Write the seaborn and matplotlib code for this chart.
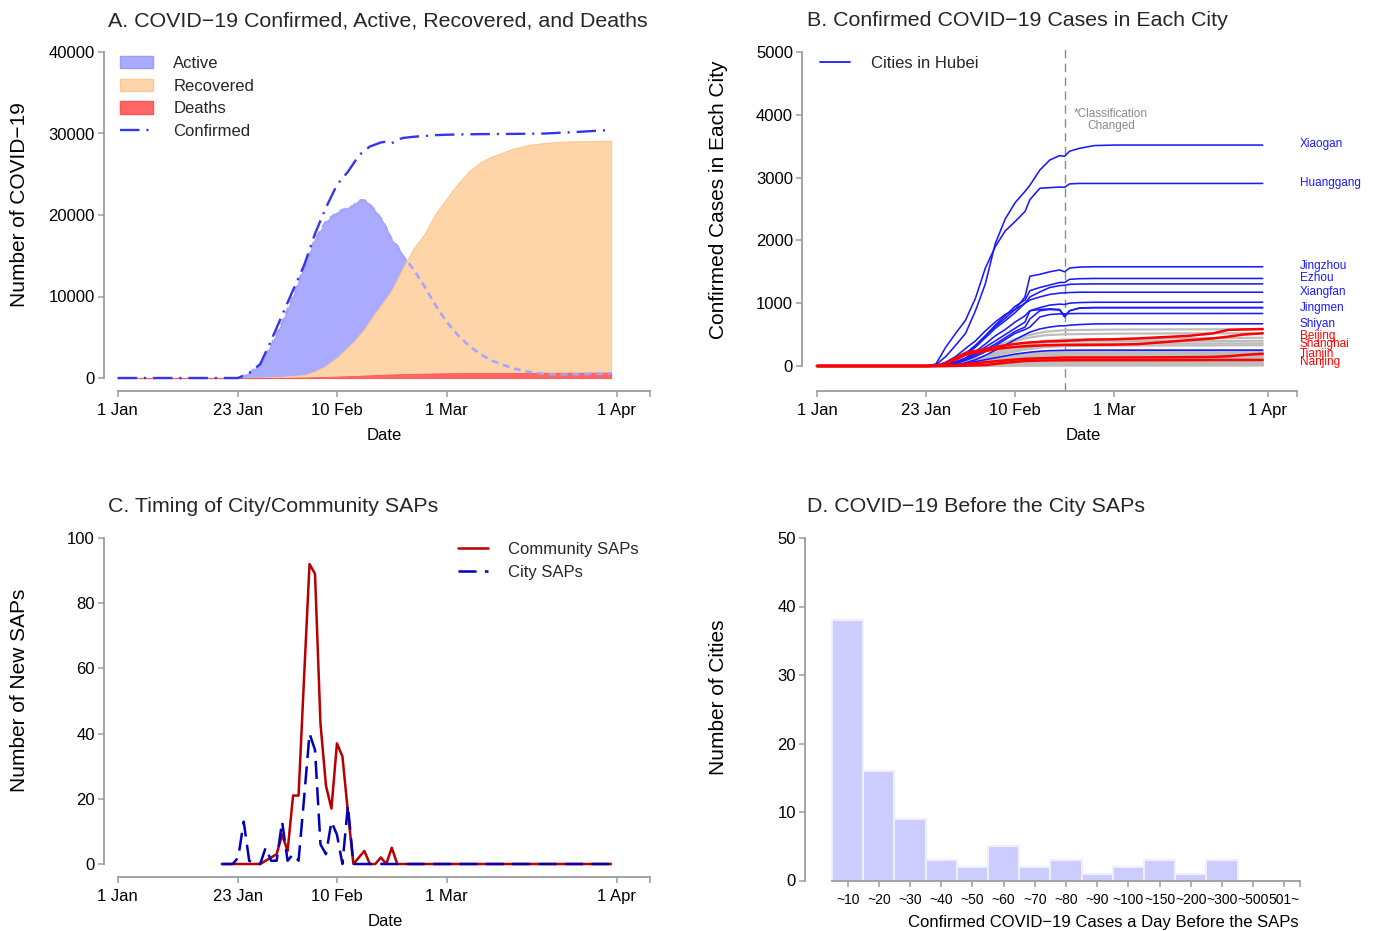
import matplotlib
matplotlib.use("Agg")
import matplotlib.pyplot as plt
import numpy as np
import pandas as pd
import seaborn as sns
from matplotlib.patches import Patch
from matplotlib.lines import Line2D

# ---------------------------------------------------------------- data
# A. daily totals (day 0 = 1 Jan 2020)
a_days = [0, 22, 24, 26, 28, 30, 32, 34, 36, 38, 40, 42, 43, 44, 45, 46, 48, 49, 50,
          51, 52, 54, 56, 58, 60, 62, 64, 66, 68, 70, 72, 75, 78, 81, 84, 87, 90]
a_confirmed = [0, 0, 600, 1700, 4600, 7700, 10800, 13800, 17700, 20900, 23700, 25300, 26300,
               27300, 27900, 28400, 28900, 29000, 28800, 29200, 29450, 29600, 29700, 29800,
               29850, 29880, 29900, 29920, 29930, 29940, 29950, 29970, 30000, 30100, 30200,
               30320, 30430]
a_active = [0, 0, 600, 1600, 4000, 6800, 10000, 13600, 17000, 19200, 20300, 20900, 21100,
            21800, 21800, 21300, 19600, 18400, 16900, 16200, 15000, 13300, 11200, 8900,
            6900, 5300, 4000, 3000, 2200, 1700, 1200, 750, 480, 420, 450, 520, 570]
a_recovered = [0, 0, 10, 20, 80, 150, 250, 350, 800, 1500, 2500, 3800, 4400, 5200, 6000,
               7000, 8900, 9800, 10800, 12100, 13500, 15900, 17700, 20200, 22000, 23800,
               25300, 26400, 27100, 27600, 28100, 28600, 28850, 28980, 29050, 29080, 29100]
a_deaths = [0, 0, 2, 5, 10, 20, 35, 60, 95, 130, 175, 220, 245, 270, 300, 330, 380, 405,
            430, 450, 470, 510, 535, 560, 580, 590, 600, 610, 615, 620, 625, 630, 640, 645,
            650, 655, 660]

# B. cumulative confirmed cases per city
hubei_days = [0, 22, 24, 26, 28, 30, 32, 34, 36, 38, 40, 42, 43, 45, 47, 49, 50, 51, 53, 56, 60, 70, 80, 90]
xiaogan = [0, 0, 20, 150, 330, 520, 880, 1310, 1950, 2340, 2600, 2780, 2880, 3120, 3280, 3350, 3340, 3420, 3466, 3510, 3518, 3518, 3518, 3518]
huanggang = [0, 0, 30, 300, 520, 730, 1080, 1560, 1900, 2150, 2300, 2460, 2650, 2830, 2840, 2850, 2845, 2900, 2907, 2907, 2907, 2907, 2907, 2907]
jingzhou = [0, 0, 5, 60, 150, 280, 400, 560, 700, 820, 900, 1100, 1430, 1460, 1500, 1530, 1500, 1560, 1575, 1580, 1580, 1580, 1580, 1580]
ezhou = [0, 0, 5, 40, 100, 200, 320, 480, 650, 800, 950, 1050, 1200, 1250, 1290, 1330, 1330, 1380, 1390, 1394, 1394, 1394, 1394, 1394]
suizhou = [0, 0, 5, 30, 90, 180, 300, 450, 600, 720, 850, 1000, 1100, 1180, 1250, 1280, 1285, 1300, 1305, 1307, 1307, 1307, 1307, 1307]
xiangfan = [0, 0, 5, 30, 100, 200, 330, 480, 630, 760, 900, 1000, 1050, 1100, 1140, 1160, 1165, 1170, 1175, 1175, 1175, 1175, 1175, 1175]
huangshi = [0, 0, 3, 20, 60, 130, 230, 350, 480, 580, 700, 800, 880, 930, 970, 985, 980, 1000, 1010, 1015, 1015, 1015, 1015, 1015]
yichang = [0, 0, 2, 20, 60, 120, 200, 300, 400, 500, 600, 700, 880, 900, 910, 900, 800, 880, 925, 931, 931, 931, 931, 931]
jingmen = [0, 0, 2, 15, 50, 100, 180, 260, 350, 450, 550, 620, 750, 880, 900, 890, 780, 880, 920, 928, 928, 928, 928, 928]
xianning = [0, 0, 2, 10, 40, 90, 150, 230, 320, 420, 520, 580, 620, 780, 820, 830, 830, 834, 836, 836, 836, 836, 836, 836]
shiyan = [0, 0, 1, 5, 20, 50, 100, 170, 250, 330, 420, 500, 540, 590, 620, 640, 640, 650, 660, 670, 672, 672, 672, 672]
enshi = [0, 0, 1, 5, 15, 40, 70, 100, 130, 160, 190, 210, 220, 235, 245, 248, 250, 251, 252, 252, 252, 252, 252, 252]
hubei_names = ["Xiaogan", "Huanggang", "Jingzhou", "Ezhou", "Suizhou", "Xiangfan", "Huangshi",
               "Yichang", "Jingmen", "Xianning", "Shiyan", "Enshi"]
hubei_series = [xiaogan, huanggang, jingzhou, ezhou, suizhou, xiangfan, huangshi,
                yichang, jingmen, xianning, shiyan, enshi]

major_days = [0, 22, 24, 26, 28, 30, 34, 38, 42, 46, 50, 55, 60, 65, 70, 75, 80, 83, 86, 90]
beijing = [0, 0, 5, 40, 130, 210, 270, 330, 370, 390, 400, 420, 425, 440, 460, 480, 520, 575, 582, 589]
shanghai = [0, 0, 3, 30, 100, 180, 240, 290, 315, 330, 335, 338, 340, 350, 380, 410, 440, 467, 500, 520]
tianjin = [0, 0, 0, 5, 15, 30, 60, 90, 115, 125, 135, 136, 136, 137, 138, 140, 145, 155, 175, 195]
nanjing = [0, 0, 0, 0, 2, 5, 15, 50, 80, 88, 92, 93, 93, 93, 94, 94, 95, 95, 96, 96]
major_names = ["Beijing", "Shanghai", "Tianjin", "Nanjing"]
major_series = [beijing, shanghai, tianjin, nanjing]

other_days = [0, 22, 26, 30, 34, 38, 42, 46, 50, 60, 75, 90]
other_cities = [
    [0, 0, 15, 90, 230, 370, 480, 545, 570, 580, 584, 584],
    [0, 0, 20, 100, 230, 350, 440, 490, 505, 515, 520, 520],
    [0, 0, 10, 60, 150, 260, 350, 400, 420, 430, 440, 450],
    [0, 0, 12, 65, 160, 260, 330, 370, 390, 396, 398, 400],
    [0, 0, 8, 50, 130, 220, 290, 330, 350, 356, 358, 360],
    [0, 0, 10, 45, 120, 200, 260, 300, 318, 325, 328, 330],
    [0, 0, 6, 35, 90, 150, 200, 230, 242, 247, 249, 250],
    [0, 0, 8, 40, 95, 150, 190, 215, 225, 228, 230, 230],
    [0, 0, 5, 30, 80, 130, 170, 195, 205, 208, 210, 210],
    [0, 0, 6, 28, 70, 120, 160, 182, 190, 193, 195, 195],
    [0, 0, 4, 25, 65, 110, 145, 168, 176, 179, 180, 180],
    [0, 0, 5, 22, 60, 100, 135, 155, 161, 164, 165, 165],
    [0, 0, 3, 20, 55, 92, 122, 140, 147, 149, 150, 150],
    [0, 0, 4, 18, 48, 82, 110, 126, 132, 134, 135, 135],
    [0, 0, 2, 15, 42, 72, 98, 112, 117, 119, 120, 120],
    [0, 0, 3, 14, 38, 64, 86, 98, 103, 104, 105, 105],
    [0, 0, 2, 12, 32, 55, 73, 84, 88, 89, 90, 90],
    [0, 0, 2, 10, 26, 45, 61, 70, 73, 74, 75, 75],
    [0, 0, 1, 8, 21, 36, 49, 56, 59, 60, 60, 60],
    [0, 0, 1, 6, 17, 29, 39, 45, 47, 48, 48, 48],
    [0, 0, 1, 5, 13, 22, 29, 34, 35, 36, 36, 36],
    [0, 0, 0, 3, 9, 15, 20, 23, 24, 25, 25, 25],
    [0, 0, 0, 2, 5, 9, 12, 14, 15, 15, 15, 15],
    [0, 0, 0, 1, 3, 5, 6, 7, 8, 8, 8, 8],
]
labelled_hubei = ["Xiaogan", "Huanggang", "Jingzhou", "Ezhou", "Xiangfan", "Jingmen", "Shiyan"]
classification_day = 50

# C. new SAPs per day, days 19..90
c_days = list(range(19, 91))
c_community = [0, 0, 0, 0, 0, 0, 0, 0, 1, 2, 3, 9, 4, 21, 21, 57, 92, 89, 43, 24, 17, 37, 33,
               16, 0, 2, 4, 0, 0, 2, 0, 5, 0] + [0] * 39
c_city = [0, 0, 0, 2, 13, 1, 0, 0, 5, 1, 1, 13, 1, 3, 1, 20, 40, 35, 6, 3, 13, 9, 0, 18,
          0] + [0] * 47

# D. cities by confirmed cases the day before the SAPs
d_bins = ["~10", "~20", "~30", "~40", "~50", "~60", "~70", "~80", "~90", "~100",
          "~150", "~200", "~300", "~500", "501~"]
d_counts = [38, 16, 9, 3, 2, 5, 2, 3, 1, 2, 3, 1, 3, 0, 0]

date_ticks = [0, 22, 40, 60, 91, 97]
date_labels = ["1 Jan", "23 Jan", "10 Feb", "1 Mar", "1 Apr", ""]

# ---------------------------------------------------------------- style
sns.set_theme(style="ticks")
plt.rcParams["font.family"] = ["Liberation Sans", "DejaVu Sans"]
plt.rcParams["lines.scale_dashes"] = False

W, H = 1379, 931
fig = plt.figure(figsize=(W / 100, H / 100), dpi=100)
AXIS_GREY = "#9c9c9c"


def fx(px):
    return px / W


def fy(py):
    return 1 - py / H


def make_axes(box):
    left, top, right, bottom = box
    return fig.add_axes([fx(left), fy(bottom), (right - left) / W, (bottom - top) / H])


def set_limits(ax, box, xref, yref):
    left, top, right, bottom = box
    (px0, v0), (px1, v1) = xref
    sx = (v1 - v0) / (px1 - px0)
    ax.set_xlim(v0 + (left - px0) * sx, v0 + (right - px0) * sx)
    (py0, w0), (py1, w1) = yref
    sy = (w1 - w0) / (py1 - py0)
    ax.set_ylim(w0 + (bottom - py0) * sy, w0 + (top - py0) * sy)


def style_axes(ax, xbounds, ybounds, xticks, xlabels, yticks, xsize=12):
    for s in ["top", "right"]:
        ax.spines[s].set_visible(False)
    for s in ["left", "bottom"]:
        ax.spines[s].set_color(AXIS_GREY)
        ax.spines[s].set_linewidth(1.3)
    ax.spines["bottom"].set_bounds(*xbounds)
    ax.spines["left"].set_bounds(*ybounds)
    ax.set_xticks(xticks)
    ax.set_xticklabels(xlabels)
    ax.set_yticks(yticks)
    ax.set_yticklabels([str(int(t)) for t in yticks])
    ax.tick_params(axis="both", colors=AXIS_GREY, length=4.5, width=1.1, labelcolor="black")
    ax.tick_params(axis="x", pad=4, labelsize=xsize)
    ax.tick_params(axis="y", pad=2, labelsize=12)
    ax.set_xlabel("")
    ax.set_ylabel("")
    ax.grid(False)
    ax.set_facecolor("none")


def label_text(x, y, s, size=12, rot=0, ha="center"):
    fig.text(fx(x), fy(y), s, fontsize=size, rotation=rot, ha=ha, va="center", color="black")


# ---------------------------------------------------------------- A
boxA = (104, 45, 662, 391)
axA = make_axes(boxA)
axA.fill_between(a_days, 0, a_active, color="#aaaaff", edgecolor="#9d9df7", lw=0.8, zorder=1)
axA.fill_between(a_days, 0, a_recovered, color="#fed4a9", edgecolor="#fcc894", lw=0.8, zorder=2)
axA.fill_between(a_days, 0, a_deaths, color="#ff6666", edgecolor="#ff5555", lw=0.6, zorder=3)
sns.lineplot(x=a_days[1:], y=a_active[1:], ax=axA, color="#a4a4ff", lw=1.8, zorder=4)
axA.lines[-1].set_dashes((5, 3.5))
sns.lineplot(x=a_days, y=a_confirmed, ax=axA, color="#3535ee", lw=1.7, zorder=5)
axA.lines[-1].set_dashes((14, 5, 1.5, 5))
set_limits(axA, boxA, ((117.6, 0), (616.6, 91)), ((378, 0), (52, 40000)))
style_axes(axA, (0, 97), (0, 40000), date_ticks, date_labels, [0, 10000, 20000, 30000, 40000])
handlesA = [Patch(facecolor="#aaaaff", edgecolor="#9d9df7"),
            Patch(facecolor="#fed4a9", edgecolor="#fcc894"),
            Patch(facecolor="#ff6666", edgecolor="#ff5555"),
            Line2D([], [], color="#3535ee", lw=1.7, dashes=(14, 5, 1.5, 5))]
axA.legend(handlesA, ["Active", "Recovered", "Deaths", "Confirmed"], loc="upper left",
           bbox_to_anchor=(fx(120), fy(56)), bbox_transform=fig.transFigure, frameon=False,
           fontsize=12, handlelength=1.95, handleheight=0.75, handletextpad=1.25,
           labelspacing=0.46, borderpad=0, borderaxespad=0)

# ---------------------------------------------------------------- B
boxB = (802, 45, 1312, 391)
axB = make_axes(boxB)
grey_df = pd.concat([pd.DataFrame({"day": other_days, "cases": vals, "city": f"other{i}"})
                     for i, vals in enumerate(other_cities)])
hubei_df = pd.concat([pd.DataFrame({"day": hubei_days, "cases": vals, "city": name})
                      for name, vals in zip(hubei_names, hubei_series)])
major_df = pd.concat([pd.DataFrame({"day": major_days, "cases": vals, "city": name})
                      for name, vals in zip(major_names, major_series)])
sns.lineplot(data=grey_df, x="day", y="cases", units="city", estimator=None, ax=axB,
             color="#bdbdbd", lw=1.6, legend=False, zorder=1)
sns.lineplot(data=hubei_df, x="day", y="cases", units="city", estimator=None, ax=axB,
             color="#1a1aff", lw=1.15, legend=False, zorder=2)
sns.lineplot(data=major_df, x="day", y="cases", units="city", estimator=None, ax=axB,
             color="#ff0000", lw=1.8, legend=False, zorder=3)
axB.axvline(classification_day, color="#8a8a8a", lw=1.0, dashes=(6, 4), zorder=0)
axB.text(59.4, 3917, "*Classification\nChanged", color="#8a8a8a", fontsize=8.5,
         ha="center", va="center", multialignment="center", linespacing=1.0)
set_limits(axB, boxB, ((817, 0), (1262.7, 90)), ((366, 0), (52, 5000)))
style_axes(axB, (0, 97), (0, 5000), date_ticks, date_labels, [0, 1000, 2000, 3000, 4000, 5000])

name_px = {"Xiaogan": 144.5, "Huanggang": 183, "Jingzhou": 266, "Ezhou": 278, "Xiangfan": 292,
           "Jingmen": 307.5, "Shiyan": 323.5, "Beijing": 336.5, "Shanghai": 343.5,
           "Tianjin": 353.5, "Nanjing": 362}
for name in labelled_hubei + major_names:
    yval = (366 - name_px[name]) / 314 * 5000
    col = "#1a1aff" if name in labelled_hubei else "#ff0000"
    axB.text(97.5, yval, name, color=col, fontsize=8.5, ha="left", va="center", clip_on=False)
axB.legend([Line2D([], [], color="#1a1aff", lw=1.3)], ["Cities in Hubei"], loc="upper left",
           bbox_to_anchor=(fx(820), fy(56)), bbox_transform=fig.transFigure, frameon=False,
           fontsize=12, handlelength=1.8, handletextpad=1.25, borderpad=0, borderaxespad=0)

# ---------------------------------------------------------------- C
boxC = (104, 530, 662, 877)
axC = make_axes(boxC)
sns.lineplot(x=c_days, y=c_community, ax=axC, color="#b80000", lw=1.8, zorder=2)
sns.lineplot(x=c_days, y=c_city, ax=axC, color="#0000b8", lw=1.8, zorder=3)
axC.lines[-1].set_dashes((13, 6))
set_limits(axC, boxC, ((117.6, 0), (616.6, 91)), ((864, 0), (538, 100)))
style_axes(axC, (0, 97), (0, 100), date_ticks, date_labels, [0, 20, 40, 60, 80, 100])
axC.legend([Line2D([], [], color="#b80000", lw=1.8),
            Line2D([], [], color="#0000b8", lw=1.8, dashes=(13, 6))],
           ["Community SAPs", "City SAPs"], loc="upper left",
           bbox_to_anchor=(fx(458), fy(542)), bbox_transform=fig.transFigure, frameon=False,
           fontsize=12, handlelength=1.8, handletextpad=1.2, labelspacing=0.46,
           borderpad=0, borderaxespad=0)

# ---------------------------------------------------------------- D
boxD = (805, 535, 1310, 880.7)
axD = make_axes(boxD)
sns.barplot(x=d_bins, y=d_counts, ax=axD, color="#ccccff", saturation=1, width=1.0,
            edgecolor="#eeeeff", linewidth=1.5, zorder=2)
set_limits(axD, boxD, ((847.7, 0), (1284.3, 14)), ((880.5, 0), (538, 50)))
style_axes(axD, (-0.5, 14.5), (0, 50), list(range(15)) + [14.5], d_bins + [""],
           [0, 10, 20, 30, 40, 50], xsize=10)

# ---------------------------------------------------------------- titles and axis labels
fig.text(fx(108), fy(21), "A. COVID\u221219 Confirmed, Active, Recovered, and Deaths",
         fontsize=15.4, ha="left", va="center")
fig.text(fx(807), fy(21), "B. Confirmed COVID\u221219 Cases in Each City",
         fontsize=15.4, ha="left", va="center")
fig.text(fx(108), fy(507), "C. Timing of City/Community SAPs",
         fontsize=15.4, ha="left", va="center")
fig.text(fx(807), fy(507), "D. COVID\u221219 Before the City SAPs",
         fontsize=15.4, ha="left", va="center")

label_text(20, 205, "Number of COVID\u221219", size=15, rot=90)
label_text(718, 200, "Confirmed Cases in Each City", size=15, rot=90)
label_text(20, 690, "Number of New SAPs", size=15, rot=90)
label_text(718, 697, "Number of Cities", size=15, rot=90)
label_text(384, 436, "Date")
label_text(1083, 436, "Date")
label_text(385, 922, "Date")
label_text(1103, 922, "Confirmed COVID\u221219 Cases a Day Before the SAPs")

fig.savefig("out.png", dpi=100, facecolor="white")
